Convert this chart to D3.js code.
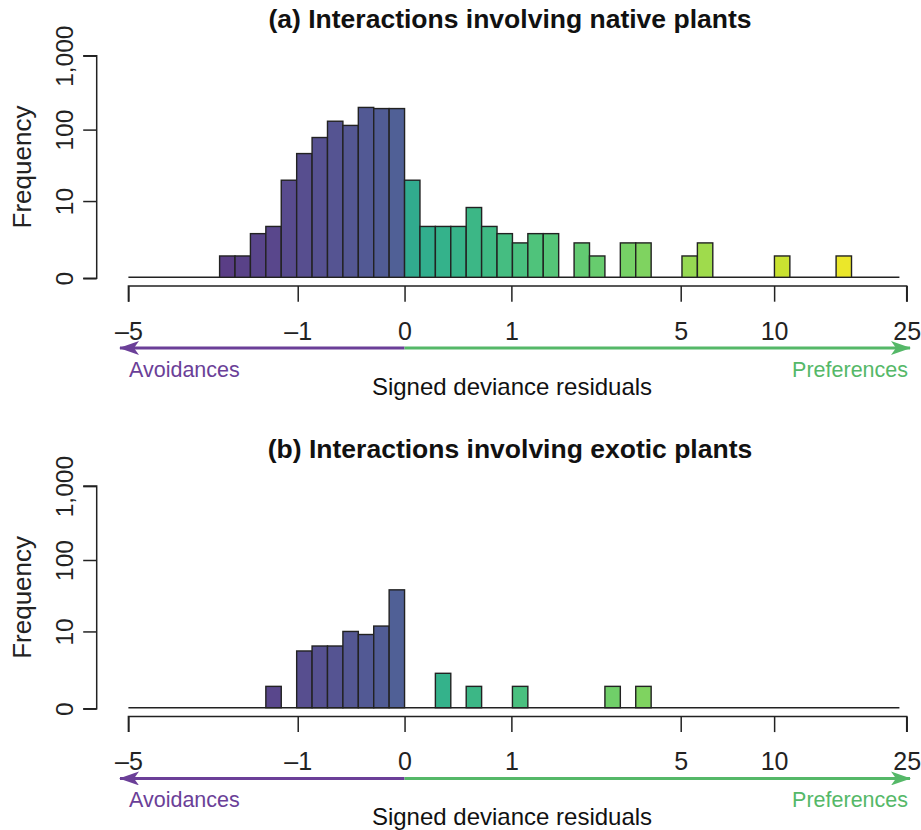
<!DOCTYPE html>
<html>
<head>
<meta charset="utf-8">
<script src="https://cdn.jsdelivr.net/npm/d3@7"></script>
<style>
  body { margin: 0; background: #fff; }
  svg { font-family: "Liberation Sans", Arial, sans-serif; }
</style>
</head>
<body>
<div id="chart"></div>
<script>
// Define SVG area dimensions
var svgWidth = 921;
var svgHeight = 830;

// Bin lower edges, in signed log(1 + |residual|) units (bins are 0.1 wide)
var binLower = [-1.2, -1.1, -1.0, -0.9, -0.8, -0.7, -0.6, -0.5, -0.4, -0.3, -0.2, -0.1,
    0.0, 0.1, 0.2, 0.3, 0.4, 0.5, 0.6, 0.7, 0.8, 0.9, 1.0, 1.1, 1.2, 1.3, 1.4,
    1.5, 1.6, 1.7, 1.8, 1.9, 2.0, 2.1, 2.2, 2.3, 2.4, 2.5, 2.6, 2.7, 2.8];
var binWidth = 0.1;

// Frequencies per bin
var nativeCounts = [1, 1, 3, 4, 20, 47, 78, 130, 114, 200, 193, 193,
    20, 4, 4, 4, 8, 4, 3, 2, 3, 3, 0, 2, 1, 0, 2,
    2, 0, 0, 1, 2, 0, 0, 0, 0, 1, 0, 0, 0, 1];
var exoticCounts = [0, 0, 0, 1, 0, 5, 6, 6, 10, 9, 12, 39,
    0, 0, 2, 0, 1, 0, 0, 1, 0, 0, 0, 0, 0, 1, 0,
    1, 0, 0, 0, 0, 0, 0, 0, 0, 0, 0, 0, 0, 0];

var panelTitles = ["(a) Interactions involving native plants", "(b) Interactions involving exotic plants"];
var xTicks = [-5, -1, 0, 1, 5, 10, 25];
var yTicks = [0, 10, 100, 1000];

var purple = "#6b3f98";
var green = "#55b868";

var svg = d3.select("#chart")
    .append("svg")
    .attr("width", svgWidth)
    .attr("height", svgHeight);

// arrow heads
var defs = svg.append("defs");
[["headP", purple], ["headG", green]].forEach(function (h) {
    defs.append("marker")
        .attr("id", h[0])
        .attr("viewBox", "0 0 20 14")
        .attr("refX", 19)
        .attr("refY", 7)
        .attr("markerWidth", 20)
        .attr("markerHeight", 14)
        .attr("markerUnits", "userSpaceOnUse")
        .attr("orient", "auto")
        .append("path")
        .attr("d", "M0,0 L20,7 L0,14 L5,7 Z")
        .attr("fill", h[1]);
});

// x scale: signed log(1 + |x|), which is what symlog does
var xScale = d3.scaleSymlog().constant(1)
    .domain([-5, 25])
    .range([128.4, 906.7]);

function toRaw(t) {
    return Math.sign(t) * Math.expm1(Math.abs(t));
}

function barColor(t) {
    var c, mix;
    if (t < 0) {
        c = d3.interpolateViridis(0.11 + (t + 1.2) / 1.1 * 0.12);
        mix = 0.1;
    } else {
        c = d3.interpolateViridis(0.58 + t / 2.8 * 0.38);
        mix = 0.07;
    }
    return d3.interpolateRgb(c, "#ffffff")(mix);
}

function drawPanel(counts, title, dy) {
    var g = svg.append("g").attr("transform", "translate(0," + dy + ")");

    var yScale = d3.scaleSymlog().constant(1)
        .domain([0, 1000])
        .range([278.3, 55.7]);

    // title
    g.append("text")
        .attr("x", 510)
        .attr("y", 28)
        .attr("text-anchor", "middle")
        .attr("font-weight", "bold")
        .attr("font-size", 26.5)
        .attr("fill", "#111")
        .text(title);

    // baseline
    g.append("line")
        .attr("x1", xScale(-5))
        .attr("x2", xScale(23.8))
        .attr("y1", yScale(0) - 1)
        .attr("y2", yScale(0) - 1)
        .attr("stroke", "#222")
        .attr("stroke-width", 1.6);

    // bars
    var data = binLower.map(function (t, i) { return { t: t, n: counts[i] }; })
        .filter(function (d) { return d.n > 0; });

    g.selectAll("rect.bar")
        .data(data)
        .enter()
        .append("rect")
        .attr("class", "bar")
        .attr("x", d => xScale(toRaw(d.t)))
        .attr("width", d => xScale(toRaw(d.t + binWidth)) - xScale(toRaw(d.t)))
        .attr("y", d => yScale(d.n))
        .attr("height", d => yScale(0) - 1 - yScale(d.n))
        .attr("fill", d => barColor(d.t + binWidth / 2))
        .attr("stroke", "#222")
        .attr("stroke-width", 1.4);

    // y axis
    var leftAxis = d3.axisLeft(yScale)
        .tickValues(yTicks)
        .tickSize(13.5)
        .tickFormat(d3.format(","));

    var yAxis = g.append("g")
        .attr("transform", "translate(96.7,0)")
        .call(leftAxis);
    yAxis.select(".domain").attr("stroke", "#222").attr("stroke-width", 1.5)
        .attr("d", "M-13.5," + yScale(1000) + "H0V" + yScale(0) + "H-13.5");
    yAxis.selectAll(".tick line").attr("stroke", "#222").attr("stroke-width", 1.5);
    yAxis.selectAll(".tick text")
        .attr("font-size", 24.5)
        .attr("font-family", "Liberation Sans, Arial, sans-serif")
        .attr("fill", "#222")
        .attr("text-anchor", "middle")
        .attr("transform", "rotate(-90)")
        .attr("x", 0)
        .attr("y", -23.5)
        .attr("dy", 0);

    g.append("text")
        .attr("transform", "translate(31," + 167 + ") rotate(-90)")
        .attr("text-anchor", "middle")
        .attr("font-size", 26)
        .attr("fill", "#222")
        .text("Frequency");

    // x axis
    var bottomAxis = d3.axisBottom(xScale)
        .tickValues(xTicks)
        .tickSize(15.7)
        .tickFormat(d => d < 0 ? "\u2013" + Math.abs(d) : String(d));

    var xAxis = g.append("g")
        .attr("transform", "translate(0,286)")
        .call(bottomAxis);
    xAxis.select(".domain").attr("stroke", "#222").attr("stroke-width", 1.5)
        .attr("d", "M" + xScale(-5) + ",15.7V0H" + xScale(25) + "V15.7");
    xAxis.selectAll(".tick line").attr("stroke", "#222").attr("stroke-width", 1.5);
    xAxis.selectAll(".tick text")
        .attr("font-size", 25)
        .attr("font-family", "Liberation Sans, Arial, sans-serif")
        .attr("fill", "#222")
        .attr("y", 53.5)
        .attr("dy", 0);

    // arrows
    g.append("line")
        .attr("x1", xScale(0)).attr("x2", 120)
        .attr("y1", 348).attr("y2", 348)
        .attr("stroke", purple).attr("stroke-width", 3)
        .attr("marker-end", "url(#headP)");
    g.append("line")
        .attr("x1", xScale(0)).attr("x2", 910)
        .attr("y1", 348).attr("y2", 348)
        .attr("stroke", green).attr("stroke-width", 3)
        .attr("marker-end", "url(#headG)");

    g.append("text")
        .attr("x", 129).attr("y", 377)
        .attr("font-size", 21.5)
        .attr("fill", purple)
        .text("Avoidances");
    g.append("text")
        .attr("x", 908).attr("y", 377)
        .attr("text-anchor", "end")
        .attr("font-size", 21.5)
        .attr("fill", green)
        .text("Preferences");

    g.append("text")
        .attr("x", 512).attr("y", 395)
        .attr("text-anchor", "middle")
        .attr("font-size", 24)
        .attr("fill", "#111")
        .text("Signed deviance residuals");
}

drawPanel(nativeCounts, panelTitles[0], 0);
drawPanel(exoticCounts, panelTitles[1], 430.4);
</script>
</body>
</html>
